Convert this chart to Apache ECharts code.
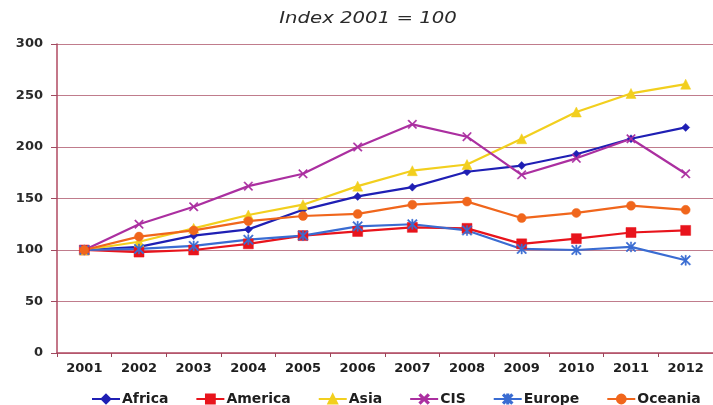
<!DOCTYPE html>
<html>
<head>
<meta charset="utf-8">
<script src="https://cdn.jsdelivr.net/npm/echarts@6/dist/echarts.min.js"></script>
<style>
  html, body { margin: 0; padding: 0; background: #ffffff; }
  #chart { width: 713px; height: 405px; }
</style>
</head>
<body>
<div id="chart"></div>
<script>
// Years on the category axis
const years = ['2001', '2002', '2003', '2004', '2005', '2006', '2007', '2008', '2009', '2010', '2011', '2012'];

// Index values, 2001 = 100
const africa  = [100, 103, 114, 120, 139, 152, 161, 176, 182, 193, 208, 219];
const america = [100,  98, 100, 106, 114, 118, 122, 121, 106, 111, 117, 119];
const asia    = [100, 108, 121, 134, 144, 162, 177, 183, 208, 234, 252, 261];
const cis     = [100, 125, 142, 162, 174, 200, 222, 210, 173, 189, 208, 174];
const europe  = [100, 101, 104, 110, 114, 123, 125, 119, 101, 100, 103,  90];
const oceania = [100, 113, 119, 128, 133, 135, 144, 147, 131, 136, 143, 139];

// Value axis ticks
const yTicks = [0, 50, 100, 150, 200, 250, 300];

const titleText = 'Index 2001 = 100';

// Marker shapes: a thin cross and an asterisk (cross plus vertical bar)
const crossPath = 'path://M1,0L5,4L9,0L10,1L6,5L10,9L9,10L5,6L1,10L0,9L4,5L0,1Z';
const starPath = 'path://M1,0L5,4L9,0L10,1L6,5L10,9L9,10L5,6L1,10L0,9L4,5L0,1Z M4.4,0L5.6,0L5.6,10L4.4,10Z';

function lineSeries(name, data, color, symbol, size) {
  return {
    name: name,
    type: 'line',
    data: data,
    symbol: symbol,
    symbolSize: size,
    showAllSymbol: true,
    lineStyle: { color: color, width: 2.2 },
    itemStyle: { color: color, borderColor: color, borderWidth: 0.5 },
    emphasis: { disabled: true },
    animation: false
  };
}

const chart = echarts.init(document.getElementById('chart'), null, { renderer: 'canvas' });

chart.setOption({
  backgroundColor: '#ffffff',
  animation: false,
  graphic: [{
    type: 'text',
    x: 368,
    y: 19,
    scaleX: 1.23,
    style: {
      text: titleText,
      x: 0,
      y: 0,
      align: 'center',
      verticalAlign: 'middle',
      fill: '#2a2a2a',
      font: 'italic 16px "DejaVu Sans"'
    }
  }],
  legend: {
    left: 86,
    top: 387,
    itemGap: 27,
    itemWidth: 28,
    itemHeight: 11,
    textStyle: {
      fontFamily: 'DejaVu Sans',
      fontWeight: 'bold',
      fontSize: 14,
      color: '#1e1e1e',
      padding: [0, 0, 0, -3]
    },
    data: ['Africa', 'America', 'Asia', 'CIS', 'Europe', 'Oceania']
  },
  grid: {
    left: 57,
    right: -10,
    top: 44,
    bottom: 52,
    containLabel: false
  },
  xAxis: {
    type: 'category',
    data: years,
    boundaryGap: true,
    axisLine: { show: true, lineStyle: { color: '#b04a62', width: 1.5 } },
    axisTick: { show: true, length: 4, lineStyle: { color: '#9a4458' } },
    axisLabel: {
      margin: 9,
      fontFamily: 'DejaVu Sans',
      fontWeight: 'bold',
      fontSize: 13,
      color: '#1e1e1e',
      interval: 0
    },
    splitLine: { show: false }
  },
  yAxis: {
    type: 'value',
    min: yTicks[0],
    max: yTicks[yTicks.length - 1],
    interval: yTicks[1] - yTicks[0],
    axisLine: { show: true, lineStyle: { color: '#b04a62', width: 1.5 } },
    axisTick: { show: true, length: 6, lineStyle: { color: '#a04a60' } },
    axisLabel: {
      margin: 14,
      fontFamily: 'DejaVu Sans',
      fontWeight: 'bold',
      fontSize: 13,
      color: '#2a2a2a'
    },
    splitLine: { show: true, lineStyle: { color: '#c07c8c', width: 1 } }
  },
  series: [
    lineSeries('Africa', africa, '#1f1fb4', 'diamond', 8),
    lineSeries('America', america, '#e8141c', 'rect', 10),
    lineSeries('Asia', asia, '#f2cf1e', 'triangle', 10),
    lineSeries('CIS', cis, '#ab2fa0', crossPath, 9),
    lineSeries('Europe', europe, '#3a6cd2', starPath, 10),
    lineSeries('Oceania', oceania, '#f0661c', 'circle', 9)
  ]
});
</script>
</body>
</html>
